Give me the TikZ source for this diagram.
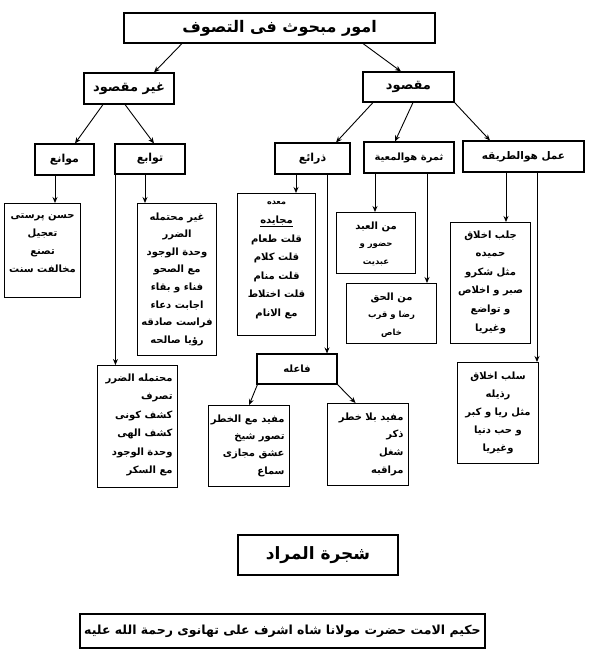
\documentclass[tikz,border=0pt]{standalone}
\usepackage{fontspec}
\usetikzlibrary{arrows.meta}
\TeXXeTstate=1
\newfontfamily\arabicfont[Script=Arabic]{DejaVu Sans}
\newcommand{\ar}[1]{{\arabicfont\bfseries\beginR #1\endR}}
% #1 alignment, #2 width, #3 height, #4 top pad, #5 size, #6 skip, #7 lines
\newcommand{\leaf}[7]{\parbox[c][#3][t]{#2}{#1\fontsize{#5}{#6}\selectfont\vspace*{#4}#7\par}}
\tikzset{
  hbox/.style={draw, line width=1.1pt, rectangle, inner sep=0pt, align=center},
  lbox/.style={draw, line width=1.1pt, rectangle, inner sep=0pt, anchor=north west},
  arr/.style={line width=0.9pt, -{Stealth[length=6pt,width=5pt]}},
}
\begin{document}
\begin{tikzpicture}[x=1pt,y=-1pt]
\fill[white] (0,0) rectangle (598,664);
\useasboundingbox (0,0) rectangle (598,664);

% headers
\node[hbox, minimum width=311pt, minimum height=30pt, font=\fontsize{16}{19}\selectfont] (T) at (279.5,28) {\ar{امور مبحوث فی التصوف}};
\node[hbox, minimum width=90pt, minimum height=31pt, font=\fontsize{13}{16}\selectfont] (A) at (129,88.5) {\ar{غیر مقصود}};
\node[hbox, minimum width=91pt, minimum height=30pt, font=\fontsize{13}{16}\selectfont] (B) at (408.5,87) {\ar{مقصود}};
\node[hbox, minimum width=59pt, minimum height=31pt, font=\fontsize{11}{14}\selectfont] (A1) at (64.5,159.5) {\ar{موانع}};
\node[hbox, minimum width=70pt, minimum height=30pt, font=\fontsize{11}{14}\selectfont] (A2) at (150,159) {\ar{توابع}};
\node[hbox, minimum width=75pt, minimum height=31pt, font=\fontsize{11}{14}\selectfont] (B1) at (312.5,158.5) {\ar{ذرائع}};
\node[hbox, minimum width=90pt, minimum height=31pt, font=\fontsize{10}{13}\selectfont] (B2) at (409,157.5) {\ar{ثمرة هوالمعیة}};
\node[hbox, minimum width=121pt, minimum height=31pt, font=\fontsize{10.5}{13}\selectfont] (B3) at (523.5,156.5) {\ar{عمل هوالطریقه}};

% leaves
\node[lbox] (hasan) at (4,203) {\leaf{\centering}{76pt}{94pt}{10pt}{10}{18}{\ar{حسن پرستی}\\\ar{تعجیل}\\\ar{تصنع}\\\ar{مخالفت سنت}}};
\node[lbox] (ghair) at (137,203) {\leaf{\centering}{79pt}{152pt}{9pt}{10}{17.6}{\ar{غیر محتمله}\\\ar{الضرر}\\\ar{وحدة الوجود}\\\ar{مع الصحو}\\\ar{فناء و بقاء}\\\ar{اجابت دعاء}\\\ar{فراست صادقه}\\\ar{رؤیا صالحه}}};
\node[lbox] (moht) at (97,365) {\leaf{\raggedleft\rightskip=5pt}{80pt}{122pt}{8pt}{10}{18.5}{\ar{محتمله الضرر}\\\ar{تصرف}\\\ar{کشف کونی}\\\ar{کشف الهی}\\\ar{وحدة الوجود}\\\ar{مع السکر}}};
\node[lbox] (maida) at (237,193) {\leaf{\centering}{78pt}{142pt}{8pt}{10}{18.6}{{\fontsize{8}{10}\selectfont\ar{معده}}\\\underline{\ar{مجایده}}\\\ar{قلت طعام}\\\ar{قلت کلام}\\\ar{قلت منام}\\\ar{قلت اختلاط}\\\ar{مع الانام}}};
\node[lbox] (abd) at (336,212) {\leaf{\centering}{79pt}{61pt}{9pt}{10}{17.5}{\ar{من العبد}\\{\fontsize{8.5}{10}\selectfont\ar{حضور و}}\\{\fontsize{8.5}{10}\selectfont\ar{عبدیت}}}};
\node[lbox] (haq) at (346,283) {\leaf{\centering}{90pt}{60pt}{9pt}{10}{17.5}{\ar{من الحق}\\{\fontsize{8.5}{10}\selectfont\ar{رضا و قرب}}\\{\fontsize{8.5}{10}\selectfont\ar{خاص}}}};
\node[lbox] (jalb) at (450,222) {\leaf{\centering}{80pt}{121pt}{8pt}{10}{18.6}{\ar{جلب اخلاق}\\\ar{حمیده}\\\ar{مثل شکرو}\\\ar{صبر و اخلاص}\\\ar{و تواضع}\\\ar{وغیریا}}};
\node[lbox] (salb) at (457,362) {\leaf{\centering}{81pt}{101pt}{9pt}{10}{18}{\ar{سلب اخلاق}\\\ar{رذیله}\\\ar{مثل ریا و کبر}\\\ar{و حب دنیا}\\\ar{وغیریا}}};
\node[hbox, minimum width=80pt, minimum height=30pt, font=\fontsize{10}{13}\selectfont] (faila) at (297,369) {\ar{فاعله}};
\node[lbox] (m1) at (208,405) {\leaf{\raggedleft\rightskip=5pt}{81pt}{81pt}{9pt}{10}{17.3}{\ar{مفید مع الخطر}\\\ar{تصور شیخ}\\\ar{عشق مجازی}\\\ar{سماع}}};
\node[lbox] (m2) at (327,403) {\leaf{\raggedleft\rightskip=5pt}{81pt}{82pt}{9pt}{10}{17.8}{\ar{مفید بلا خطر}\\\ar{ذکر}\\\ar{شغل}\\\ar{مراقبه}}};

% footer
\node[hbox, minimum width=160pt, minimum height=40pt, font=\fontsize{17}{20}\selectfont] (sh) at (318,555) {\ar{شجرة المراد}};
\node[hbox, minimum width=405pt, minimum height=34pt, font=\fontsize{12.5}{15}\selectfont] (hk) at (282.5,631) {\ar{حکیم الامت حضرت مولانا شاه اشرف علی تهانوی رحمة الله علیه}};

% connectors level 1-3
\draw[arr] ([xshift=-97.5pt]T.south) -- ([xshift=25pt]A.north);
\draw[arr] ([xshift=83.5pt]T.south) -- ([xshift=-7.5pt]B.north);
\draw[arr] ([xshift=-26pt]A.south) -- ([xshift=10.5pt]A1.north);
\draw[arr] ([xshift=-4pt]A.south) -- ([xshift=4pt]A2.north);
\draw[arr] ([xshift=-35.5pt]B.south) -- ([xshift=23.5pt]B1.north);
\draw[arr] ([xshift=4.5pt]B.south) -- ([xshift=-14pt]B2.north);
\draw[arr] (B.south east) -- ([xshift=-33.5pt]B3.north);

% vertical connectors to leaves
\draw[arr] ([xshift=-9.5pt]A1.south) -- ([xshift=-9.5pt]A1.south |- hasan.north);
\draw[arr] ([xshift=-5pt]A2.south) -- ([xshift=-5pt]A2.south |- ghair.north);
\draw[arr] ([xshift=1pt]A2.south west) -- ([xshift=1pt]A2.south west |- moht.north);
\draw[arr] ([xshift=-16.5pt]B1.south) -- ([xshift=-16.5pt]B1.south |- maida.north);
\draw[arr] ([xshift=14.5pt]B1.south) -- ([xshift=14.5pt]B1.south |- faila.north);
\draw[arr] ([xshift=-34pt]B2.south) -- ([xshift=-34pt]B2.south |- abd.north);
\draw[arr] ([xshift=18pt]B2.south) -- ([xshift=18pt]B2.south |- haq.north);
\draw[arr] ([xshift=-17.5pt]B3.south) -- ([xshift=-17.5pt]B3.south |- jalb.north);
\draw[arr] ([xshift=13.5pt]B3.south) -- ([xshift=13.5pt]B3.south |- salb.north);

% faila children
\draw[arr] ([xshift=1pt]faila.south west) -- (m1.north);
\draw[arr] (faila.south east) -- ([xshift=-12.5pt]m2.north);
\end{tikzpicture}
\end{document}
